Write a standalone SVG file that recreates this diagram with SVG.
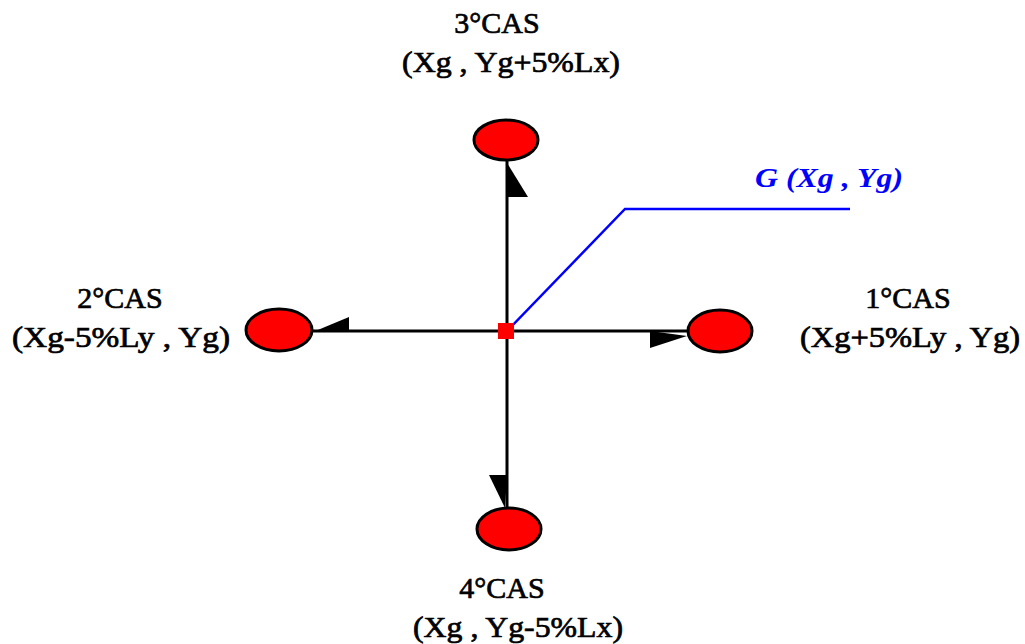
<svg xmlns="http://www.w3.org/2000/svg" width="1025" height="644" viewBox="0 0 1025 644">
<style>
.lbl{font-family:'Liberation Serif','DejaVu Serif',serif;font-size:30px;fill:#000;text-anchor:middle;stroke:#000;stroke-width:0.7}
.node{fill:#ff0000;stroke:#000;stroke-width:3}
.ax{stroke:#000;stroke-width:3;fill:none}
.head{fill:#000}
.g{font-family:'Liberation Serif','DejaVu Serif',serif;font-size:28px;font-style:italic;font-weight:bold;fill:#0000ff}
</style>
<rect width="1025" height="644" fill="#fff"/>
<g id="connectors">
<line class="ax" x1="507" y1="160" x2="507" y2="508"/>
<line class="ax" x1="312" y1="331" x2="688" y2="331"/>
<polygon class="head" points="507,163 528,197 507,197"/>
<polygon class="head" points="313,332 349,317 349,332"/>
<polygon class="head" points="650,331 687,336 650,348"/>
<polygon class="head" points="489,475 507,475 505,508"/>
<polyline points="507,331 625,209 850,209" fill="none" stroke="#0000ff" stroke-width="2.5"/>
</g>
<g id="center">
<rect x="498" y="323" width="16" height="16" fill="#ff0000"/>
<text class="g" x="755" y="187" textLength="148" lengthAdjust="spacingAndGlyphs">G (Xg , Yg)</text>
</g>
<g id="cas3">
<ellipse class="node" cx="506" cy="140" rx="32" ry="20"/>
<text class="lbl" x="497" y="33">3°CAS</text>
<text class="lbl" x="511" y="72" textLength="218" lengthAdjust="spacingAndGlyphs">(Xg , Yg+5%Lx)</text>
</g>
<g id="cas2">
<ellipse class="node" cx="279" cy="330" rx="33" ry="21"/>
<text class="lbl" x="120" y="308">2°CAS</text>
<text class="lbl" x="121" y="347" textLength="218" lengthAdjust="spacingAndGlyphs">(Xg-5%Ly , Yg)</text>
</g>
<g id="cas1">
<ellipse class="node" cx="720" cy="331" rx="32" ry="21"/>
<text class="lbl" x="908" y="308">1°CAS</text>
<text class="lbl" x="910" y="347" textLength="220" lengthAdjust="spacingAndGlyphs">(Xg+5%Ly , Yg)</text>
</g>
<g id="cas4">
<ellipse class="node" cx="509" cy="529" rx="32" ry="21"/>
<text class="lbl" x="502" y="598">4°CAS</text>
<text class="lbl" x="518" y="637" textLength="210" lengthAdjust="spacingAndGlyphs">(Xg , Yg-5%Lx)</text>
</g>
</svg>
